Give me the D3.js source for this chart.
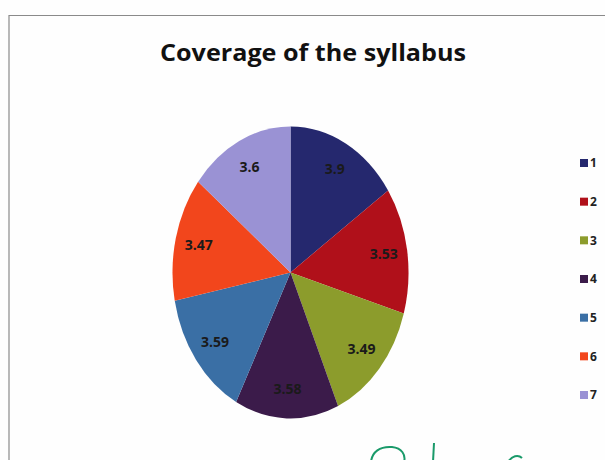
<!DOCTYPE html>
<html>
<head>
<meta charset="utf-8">
<script src="https://cdn.jsdelivr.net/npm/d3@7"></script>
<style>
  html, body { margin: 0; padding: 0; background: #fefefe; }
  svg { display: block; }
</style>
</head>
<body>
<svg id="chart" width="605" height="460"></svg>
<script>
const categories = ["1", "2", "3", "4", "5", "6", "7"];
const values = [3.9, 3.53, 3.49, 3.58, 3.59, 3.47, 3.6];
const labels = ["3.9", "3.53", "3.49", "3.58", "3.59", "3.47", "3.6"];
const colors = ["#25286e", "#b0101a", "#8c9c2c", "#3b1b4a", "#3a6fa5", "#f2461c", "#9a92d4"];
const title = "Coverage of the syllabus";

const svg = d3.select("#chart");

// frame
svg.append("path")
  .attr("d", "M9,460 V15.5 H605")
  .attr("fill", "none")
  .attr("stroke", "#8a8a8a")
  .attr("stroke-width", 1.2);

// title
svg.append("text")
  .attr("x", 313).attr("y", 61)
  .attr("text-anchor", "middle")
  .attr("font-family", "'Open Sans', 'DejaVu Sans', sans-serif")
  .attr("font-weight", "bold")
  .attr("font-size", 24)
  .attr("fill", "#111")
  .attr("textLength", 306)
  .attr("lengthAdjust", "spacingAndGlyphs")
  .text(title);

// pie (elliptical)
const cx = 290.5, cy = 272.5, rx = 118, ry = 146;
const pie = d3.pie().sort(null).value(d => d.v);
const data = pie(categories.map((c, i) => ({ c, v: values[i], l: labels[i], col: colors[i] })));
const arc = d3.arc().innerRadius(0).outerRadius(1);
const labelArc = d3.arc().innerRadius(0.8).outerRadius(0.8);

const g = svg.append("g").attr("transform", `translate(${cx},${cy}) scale(${rx},${ry})`);
g.selectAll("path").data(data).join("path")
  .attr("d", arc)
  .attr("fill", d => d.data.col);

svg.append("g").selectAll("text").data(data).join("text")
  .attr("x", d => cx + labelArc.centroid(d)[0] * rx)
  .attr("y", d => cy + labelArc.centroid(d)[1] * ry)
  .attr("dy", "0.35em")
  .attr("text-anchor", "middle")
  .attr("font-family", "'Open Sans', 'DejaVu Sans', sans-serif")
  .attr("font-weight", "bold")
  .attr("font-size", 14)
  .attr("fill", "#1a1a1a")
  .text(d => d.data.l);

// legend
const ly = d3.scalePoint().domain(categories).range([163, 395]);
const leg = svg.append("g").selectAll("g").data(categories).join("g")
  .attr("transform", d => `translate(580,${ly(d)})`);
leg.append("rect")
  .attr("x", 0).attr("y", -4).attr("width", 8).attr("height", 8)
  .attr("fill", (d, i) => colors[i]);
leg.append("text")
  .attr("x", 10).attr("y", 0).attr("dy", "0.36em")
  .attr("font-family", "'Open Sans', 'DejaVu Sans', sans-serif")
  .attr("font-weight", "bold")
  .attr("font-size", 12)
  .attr("fill", "#222")
  .text(d => d);

// handwritten green mark at bottom (scan artifact)
svg.append("path")
  .attr("d", "M371,462 C372,452 380,446 392,447 C402,448 406,455 404,462 M433,462 L434,443")
  .attr("fill", "none").attr("stroke", "#1a9a6a").attr("stroke-width", 2);
svg.append("path")
  .attr("d", "M508,462 C512,456 518,454 522,458")
  .attr("fill", "none").attr("stroke", "#1a9a6a").attr("stroke-width", 2);
</script>
</body>
</html>
